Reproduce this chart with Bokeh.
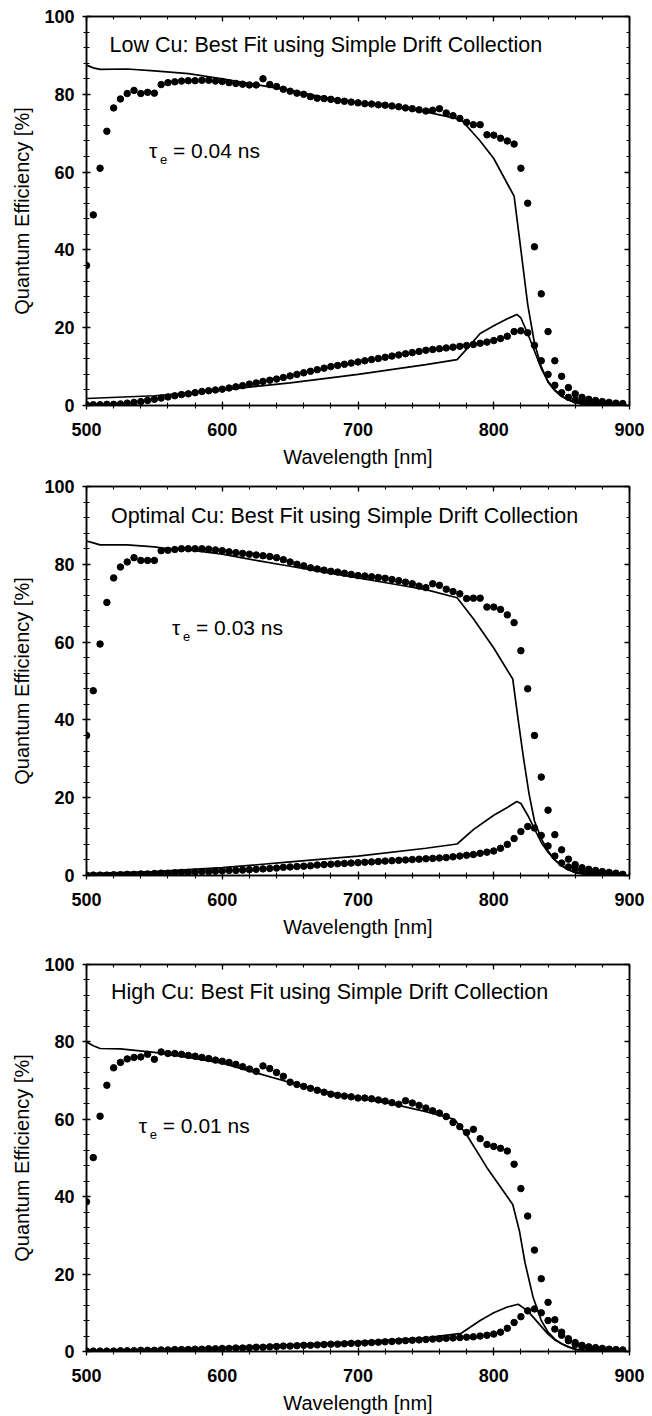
from bokeh.plotting import figure
from bokeh.layouts import column
from bokeh.models import LinearAxis, Range1d, ColumnDataSource, FixedTicker, CustomLabelingPolicy
from bokeh.core.properties import value
from bokeh.embed import file_html
from bokeh.resources import INLINE

# ---------------- data ----------------
WAVELENGTH = list(range(500, 900, 5))  # measurement grid, 5 nm steps

LOW_QE = [36, 49, 61, 70.5, 76.5, 78.8, 80.2, 81, 80.2, 80.5,
          80.3, 82.5, 83, 83.2, 83.4, 83.5, 83.5, 83.6, 83.6, 83.4,
          83.3, 83, 82.8, 82.6, 82.4, 82.4, 84, 82.5, 82, 81.3,
          80.8, 80.3, 80, 79.4, 79, 78.9, 78.7, 78.4, 78.2, 78,
          77.8, 77.6, 77.5, 77.3, 77.2, 77, 76.8, 76.5, 76.3, 76,
          75.7, 75.9, 76.3, 75.2, 74.5, 73.8, 72.8, 72.2, 72.2, 69.6,
          69.5, 68.7, 68, 67.2, 61, 52, 40.8, 28.7, 19, 11.5,
          7.5, 4.6, 3, 2.1, 1.6, 1.3, 1, 0.8, 0.6, 0.5]
LOW_DIFF = [0.2, 0.2, 0.2, 0.3, 0.3, 0.4, 0.6, 0.8, 1.0, 1.3,
            1.6, 1.9, 2.2, 2.5, 2.8, 3.0, 3.3, 3.6, 3.8, 4.0,
            4.2, 4.5, 4.8, 5.1, 5.5, 5.8, 6.2, 6.5, 6.8, 7.2,
            7.6, 8.0, 8.4, 8.8, 9.2, 9.6, 10.0, 10.3, 10.6, 10.9,
            11.2, 11.5, 11.8, 12.1, 12.4, 12.7, 13.0, 13.3, 13.6, 13.9,
            14.2, 14.4, 14.6, 14.8, 15.0, 15.2, 15.4, 15.7, 16.0, 16.3,
            16.7, 17.2, 17.8, 19.0, 19.2, 18.7, 15.5, 11.5, 8.0, 5.2,
            3.3, 2.1, 1.4, 1.0, 0.8, 0.6, 0.5, 0.4, 0.3, 0.2]
LOW_FIT_QE_X = [500, 505, 510, 530, 550, 575, 600, 625, 650, 675, 700, 725, 750, 776,
                790, 800, 815, 820, 825, 830, 835, 840, 845, 850, 855, 860, 870, 880]
LOW_FIT_QE_Y = [87.5, 86.8, 86.4, 86.5, 86, 85.3, 84, 82.5, 81, 79.2, 77.8, 76.8, 75.5, 73.5,
                68, 63.5, 53.8, 40, 26, 16, 10, 6, 3.8, 2.3, 1.4, 0.7, 0.2, 0]
LOW_FIT_DIFF_X = [500, 550, 600, 650, 700, 750, 773, 780, 790, 800, 810, 817, 820, 825,
                  830, 835, 840, 845, 850, 855, 860, 870, 880]
LOW_FIT_DIFF_Y = [1.8, 2.5, 4, 5.8, 8, 10.5, 11.8, 14.5, 18.5, 20.5, 22.3, 23.4, 22.5, 18.5,
                  14, 9.5, 6.2, 4, 2.5, 1.5, 0.8, 0.2, 0]

OPT_QE = [36, 47.5, 59.5, 70.2, 76.5, 79.3, 80.6, 81.7, 81, 81,
          81, 83.5, 83.6, 83.8, 84, 84, 84, 84, 83.9, 83.7,
          83.5, 83.2, 83, 82.8, 82.6, 82.4, 82.2, 82, 81.7, 81.2,
          80.6, 80, 79.6, 79.1, 78.8, 78.5, 78.2, 78, 77.7, 77.4,
          77.1, 77, 76.8, 76.6, 76.4, 76.1, 75.8, 75.4, 75, 74.4,
          74, 75, 74.6, 73.6, 73, 72.4, 71.2, 71.3, 71.3, 69,
          69, 68.4, 67, 65, 57.8, 48, 36, 25.3, 16.8, 10.5,
          6.6, 4.2, 2.8, 2, 1.6, 1.3, 1, 0.8, 0.6, 0.3]
OPT_DIFF = [0.1, 0.1, 0.1, 0.1, 0.2, 0.2, 0.3, 0.3, 0.4, 0.4,
            0.5, 0.6, 0.6, 0.7, 0.8, 0.8, 0.9, 1.0, 1.0, 1.1,
            1.2, 1.3, 1.3, 1.4, 1.5, 1.6, 1.7, 1.8, 1.9, 2.1,
            2.2, 2.3, 2.4, 2.5, 2.7, 2.8, 2.9, 3.0, 3.1, 3.2,
            3.3, 3.4, 3.5, 3.6, 3.7, 3.8, 3.9, 4.0, 4.1, 4.2,
            4.3, 4.4, 4.5, 4.6, 4.8, 5.0, 5.2, 5.4, 5.7, 6.0,
            6.3, 7.0, 8.0, 9.5, 11.3, 12.6, 12.2, 10.3, 7.6, 5.0,
            3.2, 2.2, 1.6, 1.2, 0.9, 0.7, 0.5, 0.4, 0.3, 0.2]
OPT_FIT_QE_X = [500, 505, 510, 530, 550, 560, 575, 600, 625, 650, 675, 700, 725, 750, 773,
                785, 800, 814, 818, 822, 826, 830, 835, 840, 845, 850, 855, 860, 870, 880]
OPT_FIT_QE_Y = [86, 85.5, 85, 85, 84.5, 84, 83.7, 82.6, 81, 79.5, 78, 76.5, 75, 73.5, 71.4,
                66, 58.5, 50.5, 40, 30, 21, 14, 9.5, 6.3, 4, 2.5, 1.5, 0.8, 0.2, 0]
OPT_FIT_DIFF_X = [500, 550, 600, 650, 700, 750, 773, 785, 800, 810, 817, 820, 825, 830,
                  835, 840, 845, 850, 855, 860, 870, 880]
OPT_FIT_DIFF_Y = [0.5, 1, 2, 3.5, 5, 7, 8.1, 11.8, 15.5, 17.5, 19, 18.5, 15.5, 12,
                  8.5, 6, 4, 2.5, 1.5, 0.7, 0.2, 0]

HIGH_QE = [38.7, 50.1, 60.8, 68.8, 73.3, 74.7, 75.6, 76, 76.1, 76.8,
           75.5, 77.4, 77, 77, 76.8, 76.5, 76.3, 76, 75.7, 75.3,
           75, 74.7, 74.2, 73.6, 73, 72.4, 73.8, 73.1, 72.1, 71.1,
           69.6, 69, 68.5, 68, 67.5, 67, 66.5, 66.2, 66, 65.8,
           65.5, 65.5, 65.3, 65, 64.7, 64.3, 63.9, 64.8, 64.2, 63.6,
           62.9, 62.2, 61.6, 60.7, 59.2, 58.1, 56.6, 57.4, 55, 53.5,
           53, 52.5, 51.8, 48.4, 42.1, 35, 26.2, 18.8, 12.7, 8.2,
           5, 3.3, 2.3, 1.6, 1.2, 1, 0.8, 0.6, 0.5, 0.4]
HIGH_DIFF = [0.1, 0.1, 0.1, 0.1, 0.1, 0.2, 0.2, 0.2, 0.3, 0.3,
             0.3, 0.4, 0.4, 0.5, 0.5, 0.5, 0.6, 0.6, 0.7, 0.7,
             0.8, 0.8, 0.9, 0.9, 1.0, 1.1, 1.1, 1.2, 1.3, 1.4,
             1.4, 1.5, 1.6, 1.6, 1.7, 1.8, 1.9, 1.9, 2.0, 2.1,
             2.1, 2.2, 2.3, 2.4, 2.5, 2.6, 2.7, 2.8, 2.9, 3.0,
             3.1, 3.2, 3.3, 3.4, 3.5, 3.6, 3.7, 3.8, 4.0, 4.2,
             4.5, 5.0, 6.0, 7.5, 9.0, 10.5, 11.0, 10.0, 8.0, 5.8,
             4.2, 2.8, 1.8, 1.3, 1.0, 0.8, 0.6, 0.5, 0.4, 0.3]
HIGH_FIT_QE_X = [500, 505, 510, 525, 550, 575, 600, 625, 650, 675, 700, 725, 750, 771,
                 780, 795, 814, 819, 823, 829, 835, 840, 845, 850, 855, 860, 870, 880]
HIGH_FIT_QE_Y = [80, 79, 78.3, 78.2, 77.3, 76, 74.5, 72, 69.5, 67.2, 65.5, 64, 62, 60,
                 56, 47.5, 38, 31, 23, 14, 8, 5, 3.2, 2, 1.2, 0.6, 0.2, 0]
HIGH_FIT_DIFF_X = [500, 600, 700, 750, 776, 790, 800, 810, 818, 825, 830, 835, 840,
                   845, 850, 855, 860, 870, 880]
HIGH_FIT_DIFF_Y = [0.2, 1, 2.5, 3.5, 4.7, 8, 10, 11.5, 12.2, 10.5, 8.5, 6.5, 4.5,
                   3, 2, 1.2, 0.5, 0.2, 0]

TITLES = ["Low Cu: Best Fit using Simple Drift Collection",
          "Optimal Cu: Best Fit using Simple Drift Collection",
          "High Cu: Best Fit using Simple Drift Collection"]
TAU_LABELS = ["= 0.04 ns", "= 0.03 ns", "= 0.01 ns"]
X_TICKS = [500, 600, 700, 800, 900]
Y_TICKS = [0, 20, 40, 60, 80, 100]

FONT = "Liberation Sans"

HIDE_LABELS = CustomLabelingPolicy(code="""
const ids = [...indices]
for (const i of ids) indices.unset(i)
return indices
""")


def ticker_for(ticks):
    step = (ticks[1] - ticks[0]) // 5
    return FixedTicker(ticks=ticks,
                       minor_ticks=[float(t) for t in range(ticks[0], ticks[-1] + 1, step)])


def make_panel(qe, diff, fqx, fqy, fdx, fdy, title, tau, title_pos, tau_pos,
               height, borders):
    left, right, top, bottom = borders
    p = figure(width=652, height=height, output_backend="svg", toolbar_location=None,
               x_range=Range1d(500, 900), y_range=Range1d(0, 100),
               min_border_left=left, min_border_right=right,
               min_border_top=top, min_border_bottom=bottom,
               x_axis_label="Wavelength [nm]", y_axis_label="Quantum Efficiency [%]")
    p.xgrid.visible = False
    p.ygrid.visible = False
    p.outline_line_color = "black"
    p.outline_line_width = 1.5
    p.background_fill_color = "white"
    p.border_fill_color = "white"

    for ax, ticks in ((p.xaxis[0], X_TICKS), (p.yaxis[0], Y_TICKS)):
        ax.ticker = ticker_for(ticks)
        ax.axis_line_width = 1.5
        ax.axis_line_color = "black"
        ax.major_tick_line_width = 1.3
        ax.minor_tick_line_width = 1.1
        ax.major_tick_in = 4
        ax.major_tick_out = 4
        ax.minor_tick_in = 3
        ax.minor_tick_out = 3
        ax.major_label_text_font = FONT
        ax.major_label_text_font_size = "18px"
        ax.major_label_text_font_style = "bold"
        ax.major_label_text_color = "black"
        ax.axis_label_text_font = FONT
        ax.axis_label_text_font_size = "20px"
        ax.axis_label_text_font_style = "normal"
        ax.axis_label_text_color = "black"
    p.xaxis.major_label_standoff = 13
    p.xaxis.axis_label_standoff = 7
    p.yaxis.major_label_standoff = 8
    p.yaxis.axis_label_standoff = 8

    # mirrored axes (ticks only)
    for loc, ticks in (("above", X_TICKS), ("right", Y_TICKS)):
        ax = LinearAxis(ticker=ticker_for(ticks), major_label_policy=HIDE_LABELS)
        ax.major_label_standoff = 0
        ax.major_tick_in = 5
        ax.major_tick_out = 0
        ax.minor_tick_in = 3
        ax.minor_tick_out = 0
        ax.axis_line_width = 1.5
        ax.major_tick_line_width = 1.3
        ax.minor_tick_line_width = 1.1
        p.add_layout(ax, loc)

    src = ColumnDataSource(dict(x=WAVELENGTH, qe=qe, diff=diff))
    p.line(fqx, fqy, line_color="black", line_width=1.7)
    p.line(fdx, fdy, line_color="black", line_width=1.7)
    p.scatter("x", "qe", source=src, size=6.5, color="black")
    p.scatter("x", "diff", source=src, size=6.5, color="black")

    p.text(x=[title_pos[0]], y=[title_pos[1]], text=[title], text_font=value(FONT),
           text_font_size="21.5px", text_baseline="middle", text_color="black")
    p.text(x=[tau_pos[0]], y=[tau_pos[1]], text=["τ"], text_font=value(FONT),
           text_font_size="21px", text_baseline="middle", text_color="black")
    p.text(x=[tau_pos[0]], y=[tau_pos[1]], text=["e"], text_font=value(FONT),
           text_font_size="13px", text_baseline="middle", text_color="black",
           x_offset=11, y_offset=9)
    p.text(x=[tau_pos[0]], y=[tau_pos[1]], text=[tau], text_font=value(FONT),
           text_font_size="21px", text_baseline="middle", text_color="black",
           x_offset=24)
    return p


p1 = make_panel(LOW_QE, LOW_DIFF, LOW_FIT_QE_X, LOW_FIT_QE_Y, LOW_FIT_DIFF_X, LOW_FIT_DIFF_Y,
                TITLES[0], TAU_LABELS[0], (517, 92.7), (546, 65.5), 470, (78, 23, 16, 64))
p2 = make_panel(OPT_QE, OPT_DIFF, OPT_FIT_QE_X, OPT_FIT_QE_Y, OPT_FIT_DIFF_X, OPT_FIT_DIFF_Y,
                TITLES[1], TAU_LABELS[1], (518, 92.4), (563, 63.7), 470, (80, 21, 16, 65))
p3 = make_panel(HIGH_QE, HIGH_DIFF, HIGH_FIT_QE_X, HIGH_FIT_QE_Y, HIGH_FIT_DIFF_X, HIGH_FIT_DIFF_Y,
                TITLES[2], TAU_LABELS[2], (518, 93), (538.5, 58.5), 476, (86, 17, 24, 63))

layout = column(p1, p2, p3, spacing=0)
open("out.html", "w").write(file_html(layout, INLINE))
